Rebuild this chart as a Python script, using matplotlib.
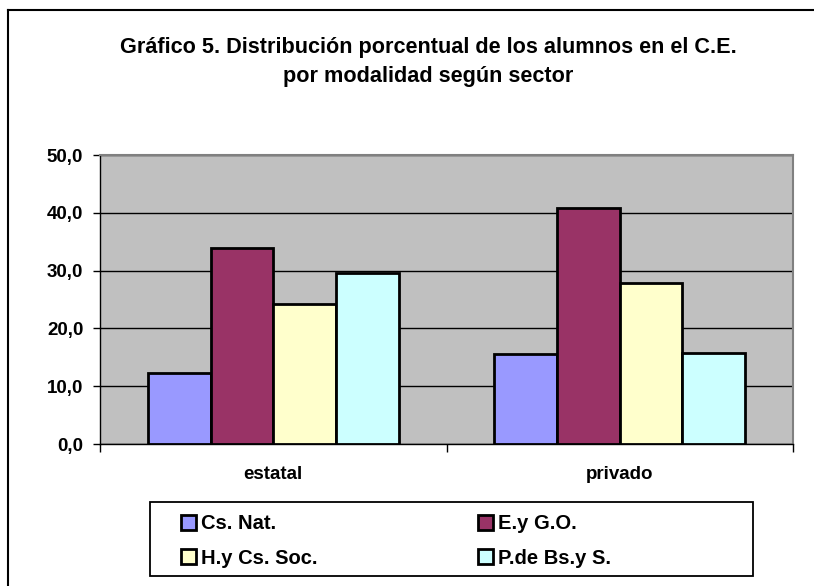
import matplotlib.pyplot as plt
import numpy as np
from matplotlib.patches import Patch, Rectangle
from matplotlib.lines import Line2D

plt.rcParams['font.family'] = ['Liberation Sans', 'DejaVu Sans']
plt.rcParams['font.weight'] = 'bold'

sectors = ['estatal', 'privado']
series = ['Cs. Nat.', 'E.y G.O.', 'H.y Cs. Soc.', 'P.de Bs.y S.']
values = [
    [12.2, 15.5],
    [33.9, 40.9],
    [24.2, 27.8],
    [29.5, 15.8],
]
colors = ['#9999FF', '#993366', '#FFFFCC', '#CCFFFF']
title = 'Gráfico 5. Distribución porcentual de los alumnos en el C.E.\npor modalidad según sector'

W, H = 814, 586
fig = plt.figure(figsize=(W / 100, H / 100), dpi=100)
ax = fig.add_axes([100 / W, (H - 444) / H, 693 / W, 289 / H])
ax.set_facecolor('#C0C0C0')

x = np.arange(len(sectors))
bw = 0.181
for i, (name, vals, c) in enumerate(zip(series, values, colors)):
    ax.bar(x + (i - 1.5) * bw, vals, bw, color=c, edgecolor='black',
           linewidth=2, label=name, zorder=3)

ax.set_ylim(0, 50)
ax.set_xlim(-0.5, 1.5)
ax.set_yticks(np.arange(0, 51, 10))
ax.set_yticklabels([f'{v:.1f}'.replace('.', ',') for v in np.arange(0, 51, 10)],
                   fontsize=13.5, fontweight='bold')
ax.yaxis.grid(True, color='black', linewidth=1, zorder=0)
ax.set_axisbelow(True)

ax.set_xticks([-0.5, 0.5, 1.5])
ax.set_xticklabels([])
ax.set_xticks(x, minor=True)
ax.set_xticklabels(sectors, minor=True, fontsize=13.5, fontweight='bold')
ax.tick_params(axis='x', which='minor', length=0, pad=16)
ax.tick_params(axis='x', which='major', length=6, width=1, direction='out')
ax.tick_params(axis='y', length=5, width=1, direction='out', pad=7)

for side in ['left', 'bottom']:
    ax.spines[side].set_color('black')
    ax.spines[side].set_linewidth(1)
for side in ['top', 'right']:
    ax.spines[side].set_color('#808080')
    ax.spines[side].set_linewidth(1.5)

fig.text(428 / W, 1 - 62 / H, title, ha='center', va='center',
         fontsize=15.6, fontweight='bold', linespacing=1.55)

# legend frame
fig.add_artist(Rectangle((150 / W, 1 - 576 / H), 603 / W, 74 / H, fill=False,
                         edgecolor='black', linewidth=1.3, transform=fig.transFigure))

# legend, filled row by row
order = [0, 2, 1, 3]
handles = [Patch(facecolor=colors[i], edgecolor='black', linewidth=2) for i in order]
labels = [series[i] for i in order]
leg = fig.legend(handles, labels, ncol=2, loc='center left',
                 bbox_to_anchor=(181 / W, 1 - 541 / H),
                 borderaxespad=0, borderpad=0,
                 prop={'weight': 'bold', 'size': 14.5},
                 handlelength=0.72, handleheight=0.72, handletextpad=0.25,
                 labelspacing=0.75, columnspacing=8.0, frameon=False)

# outer chart frame
fig.add_artist(Line2D([8 / W, 8 / W], [0, 1 - 10 / H], color='black', linewidth=1.5,
                      transform=fig.transFigure))
fig.add_artist(Line2D([8 / W, 1], [1 - 10 / H, 1 - 10 / H], color='black', linewidth=1.5,
                      transform=fig.transFigure))

fig.savefig('out.png', dpi=100, facecolor='white')
